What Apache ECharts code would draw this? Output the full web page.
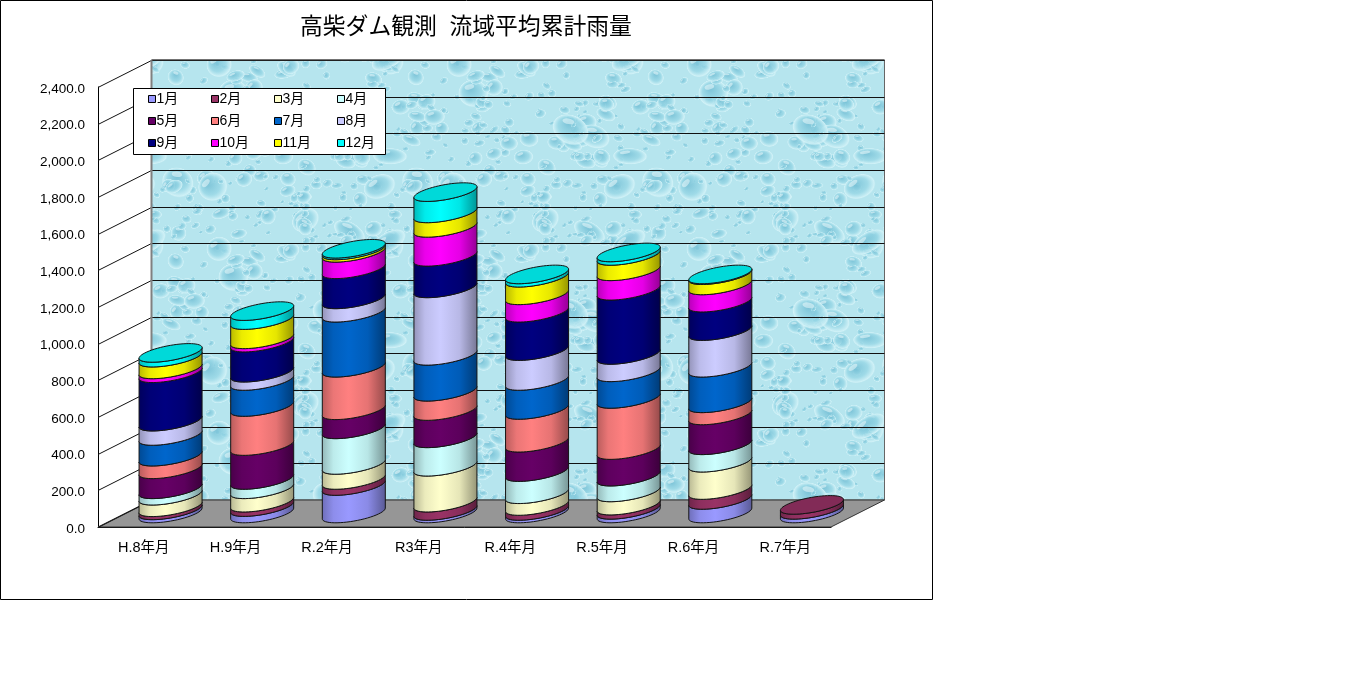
<!DOCTYPE html>
<html><head><meta charset="utf-8">
<style>html,body{margin:0;padding:0;background:#fff}#c{width:1361px;height:700px}</style>
<script src="https://cdn.jsdelivr.net/npm/echarts@6/dist/echarts.min.js"></script>
</head><body><div id="c"></div>
<script>
const categories = ['H.8年月','H.9年月','R.2年月','R3年月','R.4年月','R.5年月','R.6年月','R.7年月'];
const months = ['1月','2月','3月','4月','5月','6月','7月','8月','9月','10月','11月','12月'];
const colors = ['#9999FF','#993366','#FFFFCC','#CCFFFF','#660066','#FF8080','#0066CC','#CCCCFF','#000080','#FF00FF','#FFFF00','#00FFFF'];
const jan = [17,35,150,14,14,20,74,20];
const feb = [17,24,33,45,27,23,54,27];
const mar = [63,73,82,196,64,72,149,0];
const apr = [35,51,194,155,121,86,95,0];
const may = [109,185,104,149,160,145,163,0];
const jun = [69,213,232,105,179,279,66,0];
const jul = [113,142,300,196,158,145,194,0];
const aug = [78,45,73,368,163,95,200,0];
const sep = [264,164,164,172,209,350,155,0];
const oct = [21,18,90,158,95,106,94,0];
const nov = [64,105,13,79,96,84,56,0];
const dec = [26,49,9,116,18,19,4,0];
const yTicks = [0,200,400,600,800,1000,1200,1400,1600,1800,2000,2200,2400];
const table = [jan,feb,mar,apr,may,jun,jul,aug,sep,oct,nov,dec];

// decorative water-drop wall texture
function hash(n){const s=Math.sin(n*12.9898+4.1)*43758.5453;return s-Math.floor(s);}
function makeTexture(){
  const W=240,H=184,cv=document.createElement('canvas');cv.width=W;cv.height=H;
  const g=cv.getContext('2d');g.fillStyle='#b6e5ee';g.fillRect(0,0,W,H);
  function drop(x,y,rx,ry,rot){
    g.save();g.translate(x,y);g.rotate(rot);g.scale(rx,ry);
    const r=g.createRadialGradient(-0.25,-0.35,0.05,0,0,1);
    r.addColorStop(0,'rgba(115,190,212,0.85)');r.addColorStop(0.6,'rgba(150,214,229,0.75)');
    r.addColorStop(0.92,'rgba(212,243,248,0.85)');r.addColorStop(1,'rgba(190,232,240,0)');
    g.fillStyle=r;g.beginPath();g.arc(0,0,1,0,Math.PI*2);g.fill();
    g.fillStyle='rgba(235,250,252,0.55)';g.beginPath();g.ellipse(-0.3,-0.45,0.32,0.18,-0.4,0,Math.PI*2);g.fill();
    g.restore();
  }
  for(let i=0;i<260;i++){
    const x=hash(i*3+1)*W,y=hash(i*3+2)*H,k=hash(i*3+3),R=k>0.93?15:(k>0.68?8.5:(k>0.3?5:3));
    const rx=R*(0.8+hash(i+200)*0.5),ry=R*(0.55+hash(i+300)*0.45),rot=hash(i+400)*1.4-0.7;
    [0,-W,W].forEach(dx=>[0,-H,H].forEach(dy=>{
      if(x+dx>-30&&x+dx<W+30&&y+dy>-30&&y+dy<H+30)drop(x+dx,y+dy,rx,ry,rot);
    }));
  }
  return cv;
}
const texture=makeTexture();

const DEPTH_X=53.5, DEPTH_Y=-27;      // oblique projection of the chart box
const A_FRAC=0.28, B_X=18.3, B_Y=-9.3; // cylinder ellipse
function shade(hex,f){
  const n=parseInt(hex.slice(1),16),c=[n>>16&255,n>>8&255,n&255].map(v=>Math.round(v*f));
  return 'rgb('+c.join(',')+')';
}
function lineEl(x1,y1,x2,y2,stroke,w){
  return {type:'line',shape:{x1,y1,x2,y2},style:{stroke,lineWidth:w||1,fill:null},silent:true};
}
function renderWall(params,api){
  if(params.dataIndex!==0)return null;
  const cs=params.coordSys,L=cs.x,R=cs.x+cs.width,B=cs.y+cs.height,T=cs.y;
  const dx=DEPTH_X,dy=DEPTH_Y,ch=[];
  ch.push({type:'polygon',shape:{points:[[L+dx,T+dy],[R+dx,T+dy],[R+dx,B+dy],[L+dx,B+dy]]},
    style:{fill:{image:texture,repeat:'repeat'},stroke:'#666',lineWidth:1},silent:true});
  ch.push({type:'polygon',shape:{points:[[L,B],[R,B],[R+dx,B+dy],[L+dx,B+dy]]},
    style:{fill:'#969696',stroke:'#333',lineWidth:1},silent:true});
  yTicks.forEach(v=>{
    const y=Math.round(api.coord([0,v])[1])+0.5;
    if(v>0)ch.push(lineEl(L+dx,y+dy,R+dx,y+dy,'#111'));
    ch.push(lineEl(L,y,L+dx,y+dy,'#111'));
  });
  ch.push(lineEl(L+dx,T+dy,L+dx,B+dy,'#808080',2));
  ch.push(lineEl(L+dx,T+dy,R+dx,T+dy,'#333',1));
  return {type:'group',children:ch};
}
function renderCyl(params,api){
  const i=api.value(0),v0=api.value(1),v1=api.value(2),isTop=api.value(3);
  if(v1<=v0)return null;
  const band=api.size([1,0])[0],a=band*A_FRAC;
  const p0=api.coord([i,v0]),p1=api.coord([i,v1]);
  const cx=p0[0]+DEPTH_X/2,y0=p0[1]+DEPTH_Y/2,y1=p1[1]+DEPTH_Y/2;
  const t0=Math.atan2(B_X,a),N=28,low=[],up=[];
  for(let k=0;k<=N;k++){
    const t=t0+Math.PI+Math.PI*k/N;
    const px=cx+a*Math.cos(t)+B_X*Math.sin(t),off=B_Y*Math.sin(t);
    low.push([px,y0+off]);up.unshift([px,y1+off]);
  }
  const col=api.visual('color'),ch=[];
  ch.push({type:'polygon',shape:{points:low.concat(up)},
    style:{stroke:'#141414',lineWidth:1,fill:{type:'linear',x:0,y:0,x2:1,y2:0,colorStops:[
      {offset:0,color:shade(col,0.72)},{offset:0.18,color:shade(col,0.92)},{offset:0.42,color:shade(col,1)},
      {offset:0.72,color:shade(col,0.9)},{offset:1,color:shade(col,0.58)}]}},silent:true});
  if(isTop){
    const cap=[];
    for(let k=0;k<60;k++){
      const t=Math.PI*2*k/60;
      cap.push([cx+a*Math.cos(t)+B_X*Math.sin(t),y1+B_Y*Math.sin(t)]);
    }
    ch.push({type:'polygon',shape:{points:cap},style:{fill:shade(col,0.85),stroke:'#141414',lineWidth:1},silent:true});
  }
  return {type:'group',children:ch};
}
const cylSeries=months.map((m,s)=>({
  name:m,type:'custom',renderItem:renderCyl,z:3,animation:false,silent:true,clip:false,
  itemStyle:{color:colors[s]},
  encode:{x:0,y:2},
  data:categories.map((c,i)=>{
    let st=0;for(let q=0;q<s;q++)st+=table[q][i];
    const en=st+table[s][i];let top=table[s][i]>0?1:0;
    for(let q=s+1;q<12;q++)if(table[q][i]>0)top=0;
    return [i,st,en,top];
  })
}));
const wallSeries={name:'wall',type:'custom',renderItem:renderWall,z:1,animation:false,silent:true,clip:false,
  encode:{x:0,y:1},data:[[0,0]]};
const legendCols=[148,211,274,337];
const legends=legendCols.map((x,c)=>({
  left:x,top:92,padding:0,orient:'vertical',itemWidth:7,itemHeight:7,itemGap:8,icon:'rect',selectedMode:false,z:8,
  data:[months[c],months[c+4],months[c+8]],
  itemStyle:{borderColor:'#000',borderWidth:1},
  textStyle:{color:'#000',fontSize:14,padding:[1,0,0,-4],fontFamily:'"Liberation Sans","Noto Sans CJK JP"'}
}));
const chart=echarts.init(document.getElementById('c'),null,{renderer:'canvas'});
chart.setOption({
  animation:false,backgroundColor:'#fff',
  title:{text:'高柴ダム観測  流域平均累計雨量',left:295,top:11,
    textStyle:{fontSize:22.8,fontWeight:'normal',color:'#000',fontFamily:'"Liberation Sans","Noto Sans CJK JP"'}},
  grid:{left:98,right:530,top:87,bottom:173,containLabel:false},
  xAxis:{type:'category',data:categories,axisTick:{show:false},
    axisLine:{lineStyle:{color:'#000',width:1}},
    axisLabel:{margin:14,fontSize:14.5,color:'#000',interval:0,fontFamily:'"Liberation Sans","Noto Sans CJK JP"'}},
  yAxis:{type:'value',min:0,max:2400,interval:200,splitLine:{show:false},axisTick:{show:false},
    axisLine:{show:true,lineStyle:{color:'#000',width:1}},
    axisLabel:{margin:13,color:'#000',
      rich:{a:{fontSize:13.5,color:'#000',padding:[4,0,0,0],fontFamily:'"Liberation Sans"'}},
      formatter:v=>'{a|'+v.toLocaleString('en-US',{minimumFractionDigits:1,maximumFractionDigits:1})+'}'}},
  legend:legends,
  graphic:{elements:[
    {type:'rect',z:-5,shape:{x:0.5,y:0.5,width:932,height:599},style:{fill:'#fff',stroke:'#000',lineWidth:1},silent:true},
    {type:'rect',z:6,shape:{x:133.5,y:88.5,width:252,height:66},style:{fill:'#fff',stroke:'#000',lineWidth:1},silent:true}
  ]},
  series:[wallSeries].concat(cylSeries)
});
</script></body></html>
